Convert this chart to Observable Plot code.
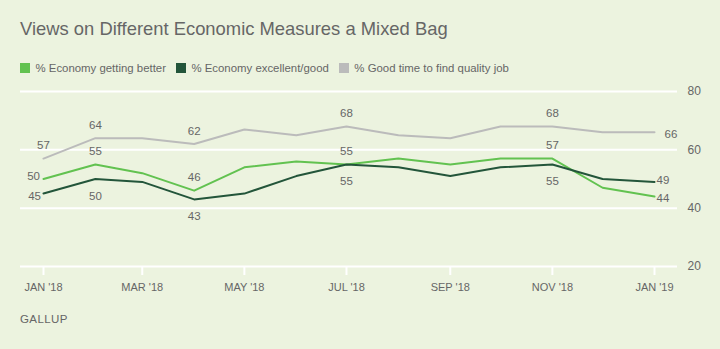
<!DOCTYPE html>
<html>
<head>
<meta charset="utf-8">
<script src="https://cdn.jsdelivr.net/npm/d3@7"></script>
<script src="https://cdn.jsdelivr.net/npm/@observablehq/plot@0.6"></script>
<style>
  html, body { margin: 0; padding: 0; }
  body { width: 720px; height: 349px; background: #ecf3df; position: relative; overflow: hidden;
         font-family: "Liberation Sans", Arial, sans-serif; color: #666; }
  #title { position: absolute; left: 20px; top: 17px; font-size: 18.4px; line-height: 24px; color: #666; white-space: nowrap; }
  #legend { position: absolute; left: 20px; top: 61px; display: flex; align-items: center; font-size: 11.4px; line-height: 14px; white-space: nowrap; }
  .sw { width: 10px; height: 10px; margin-right: 5.5px; display: inline-block; }
  .item { display: flex; align-items: center; margin-right: 10px; }
  #chart { position: absolute; left: 0; top: 80px; }
  #source { position: absolute; left: 20px; top: 312px; font-size: 11.5px; letter-spacing: 0.4px; line-height: 14px; color: #666; }
</style>
</head>
<body>
<div id="title">Views on Different Economic Measures a Mixed Bag</div>
<div id="legend"></div>
<div id="chart"></div>
<div id="source">GALLUP</div>
<script>
const months = ["2018-01-01","2018-02-01","2018-03-01","2018-04-01","2018-05-01","2018-06-01","2018-07-01",
                "2018-08-01","2018-09-01","2018-10-01","2018-11-01","2018-12-01","2019-01-01"];
const seriesNames = ["% Economy getting better", "% Economy excellent/good", "% Good time to find quality job"];
const gettingBetter = [50, 55, 52, 46, 54, 56, 55, 57, 55, 57, 57, 47, 44];
const excellentGood = [45, 50, 49, 43, 45, 51, 55, 54, 51, 54, 55, 50, 49];
const qualityJob    = [57, 64, 64, 62, 67, 65, 68, 65, 64, 68, 68, 66, 66];
const labeledMonths = [0, 1, 3, 6, 10, 12];
const xTickDates = ["2018-01-01","2018-03-01","2018-05-01","2018-07-01","2018-09-01","2018-11-01","2019-01-01"];
const xTickLabels = ["JAN '18","MAR '18","MAY '18","JUL '18","SEP '18","NOV '18","JAN '19"];
const yTicks = [20, 40, 60, 80];

const colors = ["#62c250", "#23553a", "#bbbbbb"];
const values = [gettingBetter, excellentGood, qualityJob];

// legend
const legend = document.getElementById("legend");
seriesNames.forEach((name, i) => {
  const it = document.createElement("div");
  it.className = "item";
  it.innerHTML = `<span class="sw" style="background:${colors[i]}"></span><span>${name}</span>`;
  legend.appendChild(it);
});

const dates = months.map(m => new Date(m));
const tickDates = xTickDates.map(m => new Date(m));
const rows = values.flatMap((vals, s) => vals.map((v, i) => ({series: s, name: seriesNames[s], date: dates[i], value: v, i})));

const lab = (s, cond) => rows.filter(r => r.series === s && labeledMonths.includes(r.i) && cond(r));
const isFirst = r => r.i === 0, isLast = r => r.i === months.length - 1, isMid = r => !isFirst(r) && !isLast(r);
const txt = {x: "date", y: "value", text: d => String(d.value), fill: "#666", fontSize: 11.5};

const chart = Plot.plot({
  width: 720,
  height: 225,
  marginTop: 11,
  marginBottom: 39,
  marginLeft: 43,
  marginRight: 66,
  style: {background: "transparent", fontFamily: "'Liberation Sans', Arial, sans-serif", color: "#666", overflow: "visible"},
  x: {type: "utc", domain: [dates[0], dates[dates.length - 1]], label: null},
  y: {domain: [20, 80], label: null},
  marks: [
    Plot.ruleY(yTicks, {stroke: "white", strokeWidth: 2, insetLeft: -23, insetRight: -23}),
    Plot.axisX({ticks: tickDates, tickSize: 9, tickPadding: 8, stroke: "white", strokeWidth: 2, fontSize: 11, label: null,
                tickFormat: d => xTickLabels[tickDates.findIndex(t => +t === +d)]}),
    Plot.axisY({anchor: "right", ticks: yTicks, tickSize: 0, tickPadding: 33, fontSize: 12, textAnchor: "start", label: null}),
    Plot.line(rows.filter(r => r.series === 2), {x: "date", y: "value", stroke: colors[2], strokeWidth: 2}),
    Plot.line(rows.filter(r => r.series === 0), {x: "date", y: "value", stroke: colors[0], strokeWidth: 2}),
    Plot.line(rows.filter(r => r.series === 1), {x: "date", y: "value", stroke: colors[1], strokeWidth: 2}),
    // quality job labels
    Plot.text(lab(2, r => !isLast(r)), {...txt, dy: -13}),
    Plot.text(lab(2, isLast), {...txt, textAnchor: "start", dx: 10, dy: 2}),
    // getting better labels
    Plot.text(lab(0, isFirst), {...txt, textAnchor: "end", dx: -3.5, dy: -3}),
    Plot.text(lab(0, isMid), {...txt, dy: -13}),
    Plot.text(lab(0, isLast), {...txt, textAnchor: "start", dx: 2, dy: 1.5}),
    // excellent/good labels
    Plot.text(lab(1, isFirst), {...txt, textAnchor: "end", dx: -2.5, dy: 3}),
    Plot.text(lab(1, isMid), {...txt, dy: 17}),
    Plot.text(lab(1, isLast), {...txt, textAnchor: "start", dx: 2, dy: -2})
  ]
});
document.getElementById("chart").appendChild(chart);
</script>
</body>
</html>
